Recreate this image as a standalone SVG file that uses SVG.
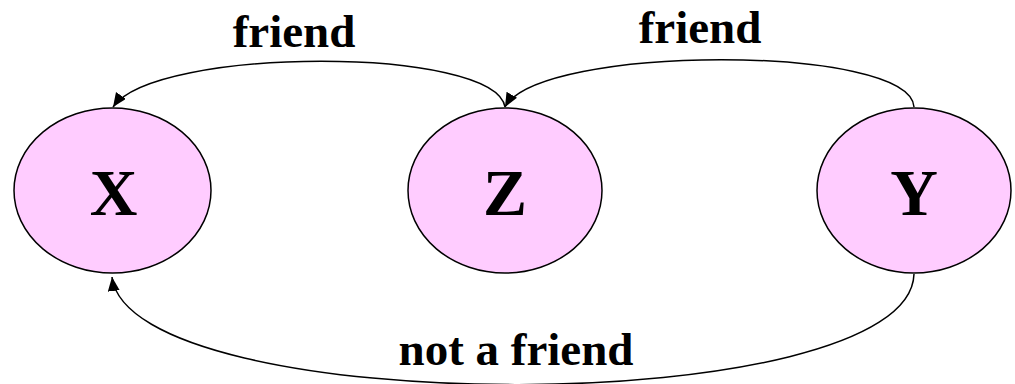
<svg xmlns="http://www.w3.org/2000/svg" width="1015" height="384" viewBox="0 0 1015 384">
<style>
.node ellipse{fill:#FFCCFF;stroke:#000;stroke-width:1.5}
.node text{font-family:"Liberation Serif","Times New Roman",serif;font-weight:bold;font-size:66px;text-anchor:middle}
.edge{fill:none;stroke:#000;stroke-width:1.5}
.lbl{font-family:"Liberation Serif","Times New Roman",serif;font-weight:bold;font-size:47px;text-anchor:middle}
</style>
<defs>
<marker id="ah" markerUnits="userSpaceOnUse" markerWidth="16" markerHeight="14" refX="14" refY="6" orient="auto">
<path d="M0,0 L14,6 L0,12 z" fill="#000"/>
</marker>
</defs>
<g id="connectors">
<path class="edge" d="M505,107 C495,46 155,46 113,107" marker-end="url(#ah)"/>
<path class="edge" d="M914,107 C910,44 540,44 505,107" marker-end="url(#ah)"/>
<path class="edge" d="M914,274 C910,421 130,421 112,277" marker-end="url(#ah)"/>
<text class="lbl" x="294" y="47">friend</text>
<text class="lbl" x="700" y="43">friend</text>
<text class="lbl" x="516" y="365">not a friend</text>
</g>
<g id="X" class="node"><ellipse cx="112.5" cy="190.5" rx="98.5" ry="82.5"/><text x="113.5" y="215">X</text></g>
<g id="Z" class="node"><ellipse cx="505" cy="190.5" rx="97" ry="82.5"/><text x="505" y="215">Z</text></g>
<g id="Y" class="node"><ellipse cx="914" cy="190.5" rx="97" ry="82.5"/><text x="914" y="215">Y</text></g>
</svg>
